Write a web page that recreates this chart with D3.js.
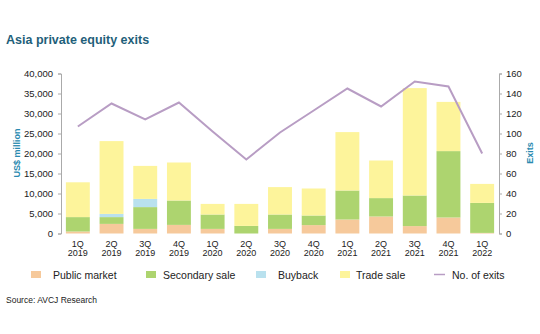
<!DOCTYPE html>
<html><head><meta charset="utf-8">
<script src="https://cdn.jsdelivr.net/npm/d3@7"></script>
<style>body{margin:0;background:#fff;}svg{display:block;font-family:"Liberation Sans",Arial,sans-serif;}</style>
</head><body>
<script>
const quarters = ["1Q","2Q","3Q","4Q","1Q","2Q","3Q","4Q","1Q","2Q","3Q","4Q","1Q"];
const years = ["2019","2019","2019","2019","2020","2020","2020","2020","2021","2021","2021","2021","2022"];
const publicMarket = [500, 2400, 1150, 2150, 1150, 0, 1150, 2100, 3500, 4250, 1850, 4000, 150];
const secondarySale = [3600, 1700, 5450, 6100, 3600, 1900, 3600, 2400, 7250, 4600, 7650, 16600, 7500];
const buyback = [0, 800, 2050, 0, 0, 0, 0, 0, 0, 0, 0, 0, 0];
const tradeSale = [8700, 18200, 8250, 9500, 2650, 5500, 6850, 6750, 14600, 9400, 26850, 12300, 4750];
const exits = [107, 130, 114, 131, 102, 74, 101, 123, 145, 127, 152, 147, 80];
const leftTicks = [0,5000,10000,15000,20000,25000,30000,35000,40000];
const rightTicks = [0,20,40,60,80,100,120,140,160];

const W=540,H=334;
const svg=d3.select("body").append("svg").attr("width",W).attr("height",H);
const x0=61,x1=499,yTop=73.5,yBot=233.5;
const labels = quarters.map((q,i)=>q+" "+years[i]);
const x=d3.scaleBand().domain(labels).range([x0,x1]).paddingInner(0.29).paddingOuter(0.145);
const y=d3.scaleLinear().domain([0,40000]).range([yBot,yTop]);
const y2=d3.scaleLinear().domain([0,160]).range([yBot,yTop]);

svg.append("text").attr("x",6).attr("y",44).text("Asia private equity exits")
  .attr("font-size",12.5).attr("font-weight","bold").attr("fill","#1f5f7a").attr("font-family","Liberation Sans, Arial, sans-serif");

const keys=["public","secondary","buyback","trade"];
const colors={public:"#f6c99b",secondary:"#add46f",buyback:"#b9e1ee",trade:"#fdf49b"};
const rows=labels.map((l,i)=>({label:l,public:publicMarket[i],secondary:secondarySale[i],buyback:buyback[i],trade:tradeSale[i]}));
const stacked=d3.stack().keys(keys)(rows);
svg.append("g").selectAll("g").data(stacked).join("g").attr("fill",d=>colors[d.key])
  .selectAll("rect").data(d=>d).join("rect")
  .attr("x",d=>x(d.data.label)).attr("width",x.bandwidth())
  .attr("y",d=>y(d[1])).attr("height",d=>Math.max(0,y(d[0])-y(d[1])));

const line=d3.line().x((d,i)=>x(labels[i])+x.bandwidth()/2).y(d=>y2(d));
svg.append("path").datum(exits).attr("d",line).attr("fill","none").attr("stroke","#b89dc4").attr("stroke-width",2);

const axL=svg.append("g").attr("transform",`translate(${x0},0)`).call(d3.axisLeft(y).tickValues(leftTicks).tickSize(3).tickPadding(5).tickFormat(d3.format(",")));
const axR=svg.append("g").attr("transform",`translate(${x1},0)`).call(d3.axisRight(y2).tickValues(rightTicks).tickSize(3).tickPadding(4));
[axL,axR].forEach(a=>{a.select(".domain").attr("stroke","#aaa");a.selectAll(".tick line").attr("stroke","#aaa");
  a.selectAll("text").attr("font-size",9.5).attr("fill","#222").attr("font-family","Liberation Sans, Arial, sans-serif");});

const xl=svg.append("g");
labels.forEach((l,i)=>{
  const cx=x(l)+x.bandwidth()/2;
  const t=xl.append("text").attr("text-anchor","middle").attr("font-size",9).attr("fill","#222");
  t.append("tspan").attr("x",cx).attr("y",247).text(quarters[i]);
  t.append("tspan").attr("x",cx).attr("y",256).text(years[i]);
});

svg.append("text").attr("transform","translate(20,153) rotate(-90)").attr("text-anchor","middle")
  .attr("font-size",9).attr("font-weight","bold").attr("fill","#2a8ab0").text("US$ million");
svg.append("text").attr("transform","translate(533,153) rotate(-90)").attr("text-anchor","middle")
  .attr("font-size",9).attr("font-weight","bold").attr("fill","#2a8ab0").text("Exits");

const legendItems=[
  {name:"Public market",c:colors.public,sx:31,tx:53,type:"rect"},
  {name:"Secondary sale",c:colors.secondary,sx:146,tx:163,type:"rect"},
  {name:"Buyback",c:colors.buyback,sx:256,tx:278,type:"rect"},
  {name:"Trade sale",c:colors.trade,sx:340,tx:356,type:"rect"},
  {name:"No. of exits",c:"#b89dc4",sx:434,tx:452,type:"line"}];
const lg=svg.append("g");
legendItems.forEach(it=>{
  if(it.type==="rect") lg.append("rect").attr("x",it.sx).attr("y",271).attr("width",10).attr("height",7).attr("fill",it.c);
  else lg.append("line").attr("x1",it.sx).attr("x2",it.sx+11).attr("y1",274.5).attr("y2",274.5).attr("stroke",it.c).attr("stroke-width",1.5);
  lg.append("text").attr("x",it.tx).attr("y",278.5).attr("font-size",10.5).attr("fill","#222").text(it.name);
});
svg.append("text").attr("x",6).attr("y",303).attr("font-size",8.5).attr("fill","#222").text("Source: AVCJ Research");
</script>
</body></html>
